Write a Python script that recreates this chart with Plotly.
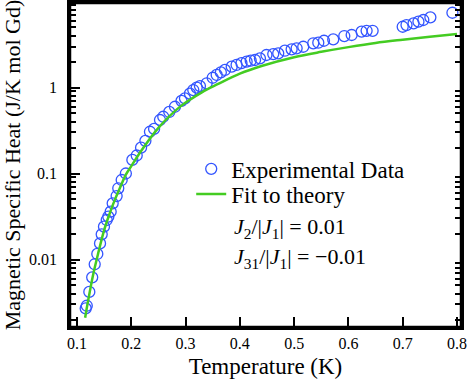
import plotly.graph_objects as go

# Experimental data (Temperature in K, magnetic specific heat in J/K mol Gd)
temp_exp = [0.116, 0.118, 0.1227, 0.128, 0.1326, 0.1374, 0.1424, 0.1455, 0.1497, 0.1547,
            0.1577, 0.162, 0.1657, 0.173, 0.176, 0.1823, 0.19, 0.202, 0.21, 0.218,
            0.226, 0.2344, 0.242, 0.2529, 0.2589, 0.27, 0.2805, 0.2925,
            0.2989, 0.308, 0.3142, 0.3205, 0.3265, 0.3389, 0.35, 0.3573, 0.365, 0.3726,
            0.385, 0.394, 0.403, 0.4125, 0.42, 0.428, 0.437, 0.449, 0.4615, 0.4707,
            0.483, 0.4954, 0.5046, 0.5168, 0.5352, 0.5445, 0.555, 0.572, 0.5924, 0.606,
            0.6243, 0.6335, 0.6446, 0.70, 0.707, 0.72, 0.729, 0.738, 0.751, 0.7916]
c_exp = [0.0027, 0.0029, 0.0042, 0.0062, 0.0088, 0.0116, 0.0154, 0.0196, 0.0241, 0.0288,
         0.0315, 0.036, 0.045, 0.0547, 0.0673, 0.084, 0.1, 0.144, 0.162, 0.2,
         0.24, 0.306, 0.33, 0.419, 0.457, 0.52, 0.598, 0.70,
         0.748, 0.85, 0.935, 1.0, 1.04, 1.12, 1.3, 1.4, 1.5, 1.6,
         1.75, 1.83, 1.92, 2.0, 2.05, 2.09, 2.18, 2.39, 2.45, 2.5,
         2.68, 2.78, 2.86, 2.98, 3.27, 3.32, 3.5, 3.63, 3.97, 4.08,
         4.46, 4.57, 4.57, 5.09, 5.33, 5.58, 5.83, 6.1, 6.55, 7.41]

# Theoretical fit
temp_fit = [0.115, 0.12, 0.13, 0.14, 0.15, 0.16, 0.17, 0.18, 0.19, 0.2, 0.22, 0.25,
            0.29, 0.33, 0.36, 0.4, 0.44, 0.5, 0.55, 0.6, 0.65, 0.7, 0.75, 0.8]
c_fit = [0.0021, 0.0032, 0.0068, 0.0125, 0.022, 0.034, 0.05, 0.07, 0.097, 0.122, 0.19, 0.34,
         0.6, 0.88, 1.1, 1.45, 1.78, 2.25, 2.6, 2.95, 3.3, 3.6, 3.9, 4.2]

x_ticks = [0.1, 0.2, 0.3, 0.4, 0.5, 0.6, 0.7, 0.8]
y_ticks = [0.01, 0.1, 1]
y_tick_labels = ["0.01", "0.1", "1"]
y_minor = [m * 10.0 ** e for e in (-3, -2, -1, 0) for m in range(2, 10)]

X_RANGE = [0.0871, 0.8074]
Y_RANGE = [-2.785, 0.983]

FONT = "Liberation Serif"
BLUE = "#3355ff"
GREEN = "#44cc22"

fig = go.Figure()
fig.add_trace(go.Scatter(
    x=temp_exp, y=c_exp, mode="markers", name="Experimental Data", legend="legend",
    marker=dict(symbol="circle-open", size=11, color=BLUE, line=dict(width=1.3, color=BLUE)),
))
fig.add_trace(go.Scatter(
    x=temp_fit, y=c_fit, mode="lines", name="Fit to theory", legend="legend2",
    line=dict(color=GREEN, width=2.5, shape="spline"),
))
# empty trace carrying the overlay axis used for the minor log ticks
fig.add_trace(go.Scatter(x=[None], y=[None], yaxis="y2", mode="markers",
                         showlegend=False, hoverinfo="skip"))

axis_common = dict(
    showline=True, linecolor="black", linewidth=2.5, mirror=True,
    ticks="inside", tickcolor="black", tickwidth=2, ticklen=10,
    showgrid=False, zeroline=False, automargin=False,
    tickfont=dict(family=FONT, size=16, color="black"),
)

legend_common = dict(
    xanchor="left", yanchor="middle", bgcolor="rgba(0,0,0,0)",
    font=dict(family=FONT, size=23, color="black"), borderwidth=0,
)

fig.update_layout(
    width=467, height=390,
    margin=dict(l=70, r=6, t=3, b=63),
    paper_bgcolor="white", plot_bgcolor="rgba(0,0,0,0)",
    font=dict(family=FONT, color="black"),
    xaxis=dict(
        range=X_RANGE, tickvals=x_ticks, ticktext=[str(v) for v in x_ticks],
        title=dict(text="Temperature (K)", font=dict(family=FONT, size=23), standoff=7),
        **axis_common,
    ),
    yaxis=dict(
        type="log", range=Y_RANGE, tickvals=y_ticks, ticktext=y_tick_labels,
        ticklabelstandoff=7,
        title=dict(text="Magnetic Specific Heat (J/K mol Gd)", font=dict(family=FONT, size=22), standoff=6),
        **axis_common,
    ),
    yaxis2=dict(
        overlaying="y", side="left", anchor="x", type="log", range=Y_RANGE,
        tickvals=y_minor, showticklabels=False, showline=False, mirror="ticks",
        ticks="inside", tickcolor="black", tickwidth=1.8, ticklen=6,
        showgrid=False, zeroline=False, automargin=False,
    ),
    shapes=[dict(type="rect", xref="paper", yref="paper", x0=0, x1=1, y0=0, y1=1,
                 line=dict(color="black", width=2.5), fillcolor="rgba(0,0,0,0)", layer="above")],
    legend=dict(x=0.31, y=0.488, **legend_common),
    legend2=dict(x=0.31, y=0.41, **legend_common),
    showlegend=True,
    annotations=[
        dict(xref="paper", yref="paper", x=0.414, y=0.3056, xanchor="left", yanchor="middle",
             text="<i>J</i><sub>2</sub>/|<i>J</i><sub>1</sub>| = 0.01", showarrow=False,
             font=dict(family=FONT, size=22, color="black")),
        dict(xref="paper", yref="paper", x=0.414, y=0.213, xanchor="left", yanchor="middle",
             text="<i>J</i><sub>31</sub>/|<i>J</i><sub>1</sub>| = \u22120.01", showarrow=False,
             font=dict(family=FONT, size=22, color="black")),
    ],
)

fig.write_html("out.html", config={"displayModeBar": False},
               post_script="document.body.style.margin='0';")
